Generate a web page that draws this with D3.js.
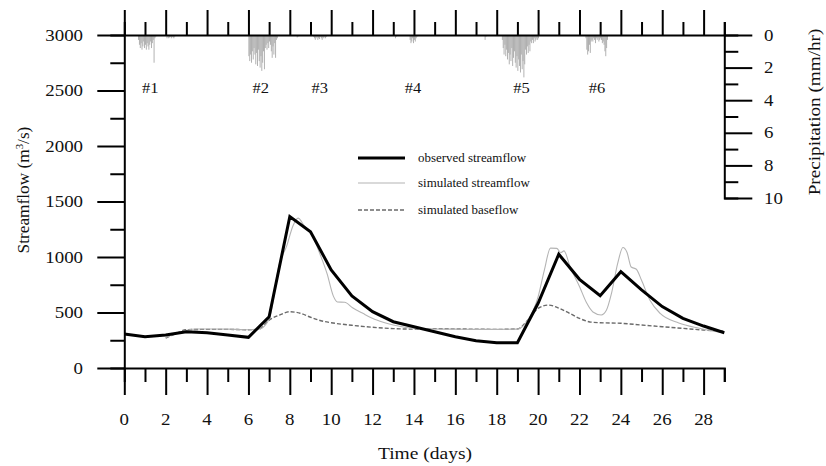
<!DOCTYPE html>
<html>
<head>
<meta charset="utf-8">
<script src="https://cdn.jsdelivr.net/npm/d3@7"></script>
<style>
html,body{margin:0;padding:0;background:#fff;}
svg{display:block;}
text{font-family:"Liberation Serif","Times New Roman",serif;fill:#111;}
</style>
</head>
<body>
<svg id="chart" width="826" height="466"></svg>
<script>
// ---------------- DATA ----------------
const observedDays = [0,1,2,3,4,5,6,7,8,9,10,11,12,13,14,15,16,17,18,19,20,21,22,23,24,25,26,27,28,29];
const observedFlow = [306,282,297,327,318,297,276,462,1365,1228,883,649,507,417,372,327,282,246,228,228,583,1025,799,651,868,703,553,447,378,318];

const simDays = [2,2.5,3,3.5,4,5,6,6.5,7,7.5,7.85,8.15,8.4,8.7,9.1,9.45,9.8,10.1,10.3,10.65,11.05,11.55,12.2,13,14,15,16,17,18,19,19.5,20,20.3,20.6,20.9,21.1,21.25,21.55,22,22.35,22.65,23.05,23.3,23.55,23.85,24.1,24.3,24.5,24.75,25,25.4,25.9,26.8,27.8,28.8,29];
const simFlow = [275,310,340,352,352,350,345,350,440,940,1100,1280,1350,1280,1190,1030,850,650,595,592,540,490,432,388,358,352,350,348,348,350,430,640,880,1080,1078,1040,1055,910,735,585,505,478,520,675,945,1085,1040,910,890,790,612,492,405,358,322,318];

const baseDays = [2,2.5,3,4,5,6,6.5,7,7.5,8,8.5,9,9.5,10,11,12,13,14,15,16,17,18,19,19.5,20,20.5,21,21.5,22,22.5,23,24,25,26,27,28,29];
const baseFlow = [270,310,345,348,348,345,349,432,477,507,493,457,426,408,385,367,355,350,355,352,350,348,352,430,537,567,540,495,447,415,408,403,387,372,357,342,332];

// hourly precipitation (mm/hr): start hour of each burst and its hourly values
const precipStarts = [16,49,144,200,219,314,331,418,438,535];
const precipBursts = [
  [0.3,0.6,0.8,0.5,0.9,0.7,0.4,0.8,0.6,0.9,0.5,0.7,0.9,0.6,0.4,0.8,0.5,0.3,1.7,0.2,0.1],
  [0.2,0.1,0.2,0.15,0.1,0.2,0.1,0.15,0.2,0.1],
  [1.3,1.6,1.2,1.7,1.0,1.5,0.8,1.2,1.8,1.1,1.9,0.9,1.6,2.0,1.3,2.2,1.7,1.0,2.1,0.8,0.6,0.9,0.5,0.8,0.4,0.6,1.0,1.4,0.7,1.2,0.5,1.4,0.3,0.2],
  [0.15,0.1],
  [0.1,0.2,0.3,0.2,0.1,0.3,0.2,0.25,0.1,0.2,0.3,0.15,0.2,0.1,0.2,0.1],
  [0.2,0.1],
  [0.3,0.5,0.4,0.2,0.5,0.3,0.4,0.2,0.1],
  [0.3,0.1],
  [0.3,0.8,1.2,0.6,1.3,0.9,1.5,1.1,1.8,1.2,1.6,0.8,1.9,1.4,1.0,1.7,2.0,1.3,2.2,1.5,1.9,2.3,1.2,2.1,1.6,2.6,1.8,0.9,1.2,0.7,1.1,0.6,1.0,0.4,0.5,0.3,0.5,0.2,0.4,0.3,0.2,0.3,0.2],
  [0.2,0.9,1.2,1.0,0.6,1.1,0.4,0.3,0.4,0.2,0.3,0.5,0.2,0.3,0.2,0.4,0.3,0.2,0.3,0.5,0.4,0.6,1.0,1.3,0.8,0.3]
];
const eventLabels = ["#1","#2","#3","#4","#5","#6"];
const eventDays = [1.25,6.6,9.45,13.95,19.2,22.85];

const dayTicks = d3.range(0,30);          // 0..29
const dayLabels = d3.range(0,29,2);       // 0..28
const flowTicks = d3.range(0,3001,250);
const flowLabels = d3.range(0,3001,500);
const precipTicks = d3.range(0,11,1);
const precipLabels = d3.range(0,11,2);

const legendLabels = ["observed streamflow","simulated streamflow","simulated baseflow"];

// ---------------- LAYOUT ----------------
const svg = d3.select("#chart");
const x = d3.scaleLinear().domain([0,29]).range([124.3,724.3]);
const y = d3.scaleLinear().domain([0,3000]).range([368,35]);
const p = d3.scaleLinear().domain([0,10]).range([35,198]);

const FONT = 16, SX = 1.18;
function label(xp, yp, str, opts={}) {
  const size = opts.size || FONT, sx = opts.sx || SX, anchor = opts.anchor || "middle";
  const rot = opts.rotate ? ` rotate(${opts.rotate})` : "";
  return svg.append("text")
    .attr("transform", `translate(${xp},${yp})${rot} scale(${sx},1)`)
    .attr("text-anchor", anchor)
    .attr("font-size", size)
    .text(str);
}

// precipitation bars
const precipData = [];
precipStarts.forEach((s,i)=>precipBursts[i].forEach((v,j)=>precipData.push({h:s+j,v:v})));
svg.append("g").selectAll("rect").data(precipData).enter().append("rect")
  .attr("x", d=>x(d.h/24))
  .attr("y", p(0))
  .attr("width", 0.9)
  .attr("height", d=>p(d.v)-p(0))
  .attr("fill", "#aaaaaa");

// axes
function styleAxis(g){
  g.select(".domain").attr("stroke","#000").attr("stroke-width",2);
  g.selectAll(".tick line").attr("stroke","#000").attr("stroke-width",2);
  g.selectAll(".tick text").remove();
}
// bottom: major + minor
svg.append("g").attr("transform",`translate(0,${y(0)})`)
  .call(d3.axisBottom(x).tickValues(dayTicks).tickSizeOuter(0)
    .tickSize(14).tickFormat(""))
  .call(styleAxis)
  .call(g=>g.selectAll(".tick line").filter(d=>d%2===0).attr("y2",27));
// top
svg.append("g").attr("transform",`translate(0,${y(3000)})`)
  .call(d3.axisTop(x).tickValues(dayTicks).tickSizeOuter(0)
    .tickSize(13).tickFormat(""))
  .call(styleAxis)
  .call(g=>g.selectAll(".tick line").filter(d=>d%2===0).attr("y2",-25));
// left
svg.append("g").attr("transform",`translate(${x(0)},0)`)
  .call(d3.axisLeft(y).tickValues(flowTicks).tickSizeOuter(0)
    .tickSize(14).tickFormat(""))
  .call(styleAxis)
  .call(g=>g.selectAll(".tick line").filter(d=>d%500===0).attr("x2",-27));
// right (precip)
svg.append("g").attr("transform",`translate(${x(29)},0)`)
  .call(d3.axisRight(p).tickValues(precipTicks).tickSizeOuter(0)
    .tickSize(14).tickFormat(""))
  .call(styleAxis)
  .call(g=>g.selectAll(".tick line").filter(d=>d%2===0).attr("x2",28));

// tick labels
dayLabels.forEach(d=>label(x(d), 424.5, String(d)));
flowLabels.forEach(v=>label(83, y(v)+5.5, String(v), {anchor:"end"}));
precipLabels.forEach(v=>label(764, p(v)+5.5, String(v), {anchor:"start"}));

// axis titles
label(425, 459, "Time (days)", {sx:1.22});
const yt = svg.append("text")
  .attr("transform", `translate(29,190) rotate(-90) scale(1.08,1)`)
  .attr("text-anchor","middle").attr("font-size",FONT);
yt.append("tspan").text("Streamflow (m");
yt.append("tspan").attr("font-size",10).attr("dy",-6).text("3");
yt.append("tspan").attr("dy",6).text("/s)");
label(820, 112, "Precipitation (mm/hr)", {rotate:-90, sx:1.2});

// event labels
eventLabels.forEach((t,i)=>label(x(eventDays[i]), 92.5, t, {size:15, sx:1.1}));

// lines
const lineObs = d3.line().x((d,i)=>x(observedDays[i])).y(d=>y(d));
const lineSim = d3.line().x((d,i)=>x(simDays[i])).y(d=>y(d)).curve(d3.curveMonotoneX);
const lineBase = d3.line().x((d,i)=>x(baseDays[i])).y(d=>y(d)).curve(d3.curveMonotoneX);

svg.append("path").datum(baseFlow).attr("d",lineBase)
  .attr("fill","none").attr("stroke","#6a6a6a").attr("stroke-width",1.4).attr("stroke-dasharray","4,2");
svg.append("path").datum(simFlow).attr("d",lineSim)
  .attr("fill","none").attr("stroke","#b4b4b4").attr("stroke-width",1.1);
svg.append("path").datum(observedFlow).attr("d",lineObs)
  .attr("fill","none").attr("stroke","#000").attr("stroke-width",3).attr("stroke-linejoin","miter");

// legend
const legY = [158,183,210];
const legStyles = [
  {stroke:"#000", w:3, dash:null},
  {stroke:"#b4b4b4", w:1.1, dash:null},
  {stroke:"#6a6a6a", w:1.4, dash:"4,2"}
];
legendLabels.forEach((t,i)=>{
  svg.append("line").attr("x1",358).attr("x2",405).attr("y1",legY[i]).attr("y2",legY[i])
    .attr("stroke",legStyles[i].stroke).attr("stroke-width",legStyles[i].w)
    .attr("stroke-dasharray",legStyles[i].dash);
  label(418, legY[i]+4, t, {size:12, sx:1.08, anchor:"start"});
});
</script>
</body>
</html>
